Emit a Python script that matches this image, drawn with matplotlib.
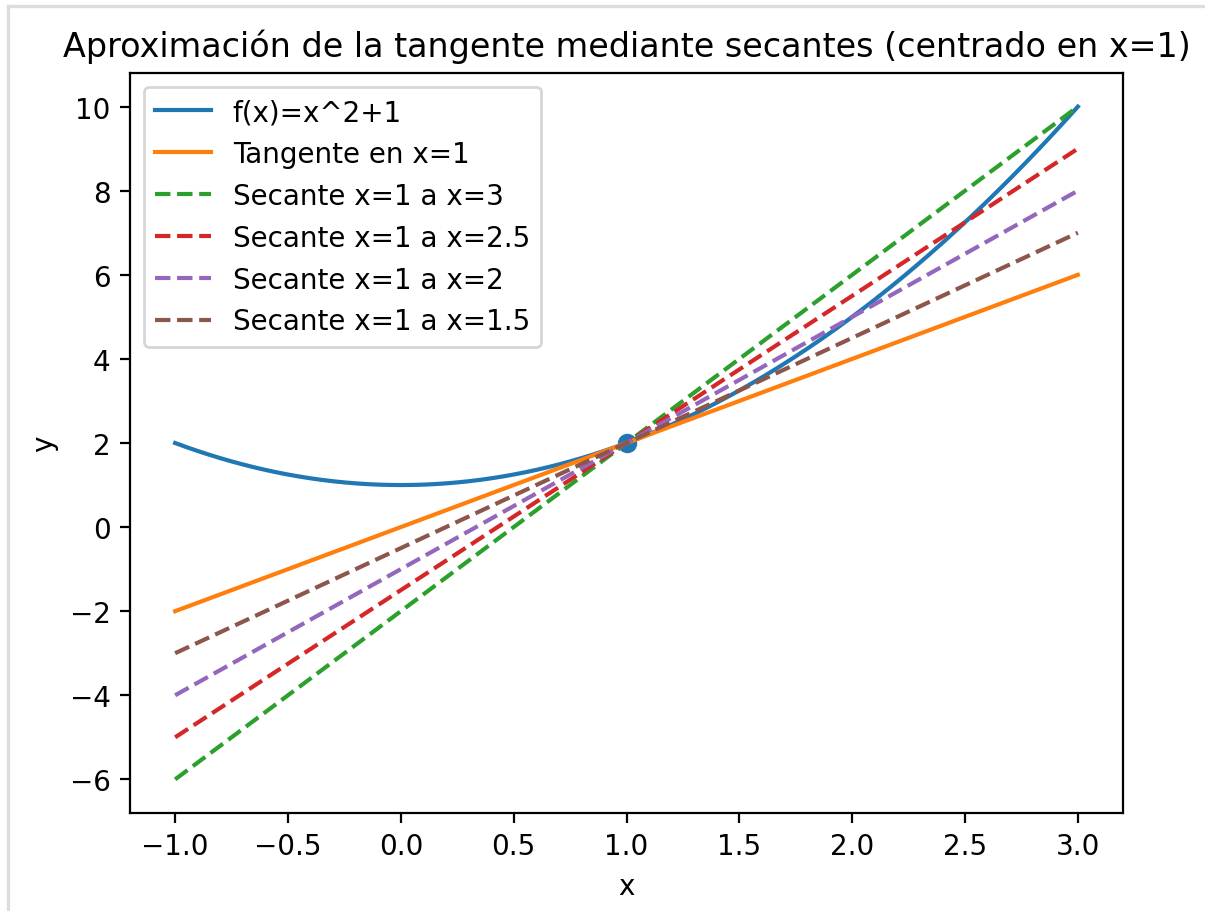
import numpy as np
import matplotlib
matplotlib.use("Agg")
import matplotlib.pyplot as plt
from matplotlib.lines import Line2D

# Function and point of tangency
x = np.linspace(-1, 3, 400)
x0 = 1
y0 = 2
tangent_slope = 2
# Secant end points (x=1 to x=h)
secant_ends = [3, 2.5, 2, 1.5]

def f(t):
    return t**2 + 1

fig = plt.figure(figsize=(1205 / 200, 912 / 200), dpi=200)
ax = fig.add_axes([130 / 1205, 98 / 912, 993 / 1205, 740 / 912])

ax.plot(x, f(x), label='f(x)=x^2+1')
ax.plot(x, y0 + tangent_slope * (x - x0), label='Tangente en x=1')
for h in secant_ends:
    m = (f(h) - f(x0)) / (h - x0)
    ax.plot(x, y0 + m * (x - x0), linestyle='--', label=f'Secante x=1 a x={h}')
ax.scatter([x0], [y0])

ax.set_title('Aproximación de la tangente mediante secantes (centrado en x=1)')
ax.set_xlabel('x')
ax.set_ylabel('y')
ax.legend()

# light frame of the notebook cell
fig.add_artist(Line2D([8 / 1205, 8 / 1205], [0, 1 - 7 / 912], color='#dddddd', lw=1.2))
fig.add_artist(Line2D([8 / 1205, 1], [1 - 7 / 912, 1 - 7 / 912], color='#dddddd', lw=1.2))

fig.savefig('out.png', dpi=200)
